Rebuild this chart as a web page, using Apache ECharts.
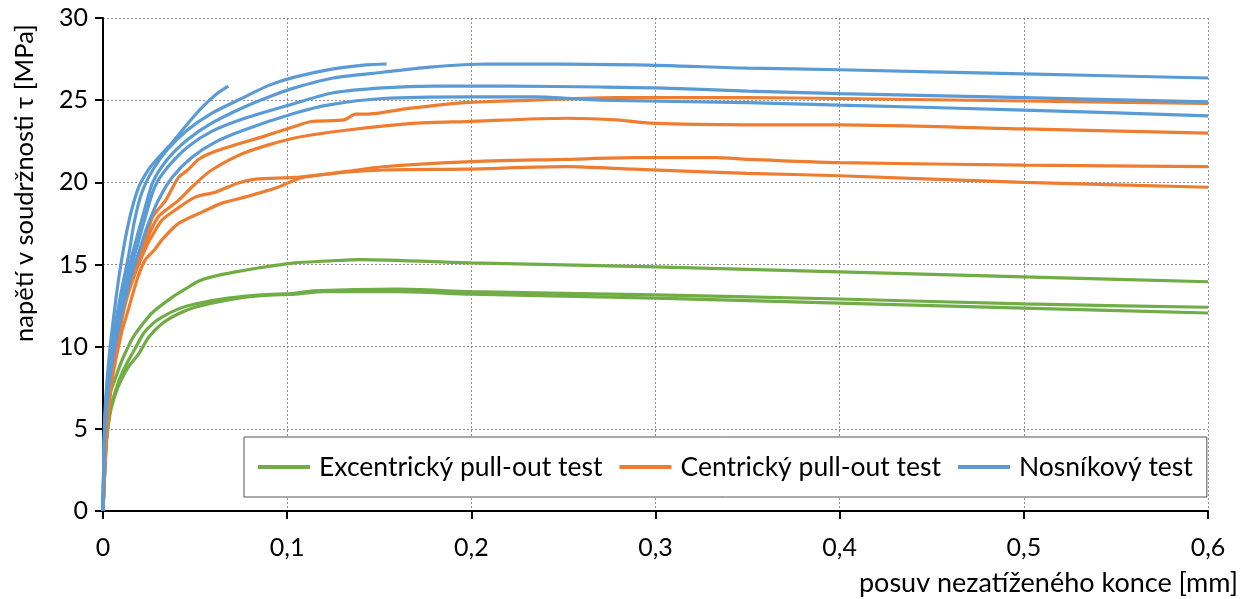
<!DOCTYPE html>
<html>
<head>
<meta charset="utf-8">
<script src="https://cdn.jsdelivr.net/npm/echarts@6/dist/echarts.min.js"></script>
<style>
html,body{margin:0;padding:0;background:#fff;}
#chart{width:1246px;height:599px;}
</style>
</head>
<body>
<div id="chart"></div>
<script>
// ---- data (x = posuv [mm], y = napětí [MPa]) ----
const seriesNames = ['Excentrický pull-out test', 'Centrický pull-out test', 'Nosníkový test'];
const xTicks = [0, 0.1, 0.2, 0.3, 0.4, 0.5, 0.6];
const yTicks = [0, 5, 10, 15, 20, 25, 30];

const excentricky1 = [[0,0],[0.001,3],[0.002,5.5],[0.004,7.2],[0.0065,8.0],[0.009,8.8],[0.012,9.6],[0.016,10.5],[0.021,11.3],[0.0266,12.05],[0.0375,13.0],[0.046,13.6],[0.052,14.0],[0.059,14.25],[0.072,14.55],[0.085,14.8],[0.104,15.1],[0.12,15.2],[0.14,15.3],[0.2,15.1],[0.3,14.85],[0.4,14.55],[0.5,14.25],[0.6,13.95]];
const excentricky2 = [[0,0],[0.001,2.5],[0.002,4.5],[0.004,6.2],[0.007,7.4],[0.01,8.3],[0.014,9.2],[0.017,9.8],[0.022,10.8],[0.027,11.4],[0.032,11.8],[0.041,12.3],[0.05,12.6],[0.068,12.95],[0.086,13.15],[0.104,13.25],[0.114,13.4],[0.16,13.5],[0.2,13.35],[0.3,13.15],[0.4,12.9],[0.5,12.6],[0.6,12.4]];
const excentricky3 = [[0,0],[0.001,2.5],[0.002,4.3],[0.004,6.0],[0.007,7.2],[0.01,8.0],[0.014,8.8],[0.019,9.5],[0.025,10.6],[0.032,11.4],[0.041,12.0],[0.05,12.4],[0.068,12.85],[0.086,13.1],[0.104,13.2],[0.12,13.35],[0.16,13.35],[0.2,13.2],[0.3,12.95],[0.4,12.65],[0.5,12.35],[0.6,12.05]];

const centricky1 = [[0,0],[0.002,5.2],[0.005,8.8],[0.01,12.0],[0.0136,13.6],[0.0174,14.9],[0.023,16.5],[0.027,17.9],[0.034,18.9],[0.041,20.3],[0.046,20.75],[0.052,21.4],[0.059,21.8],[0.068,22.15],[0.086,22.75],[0.104,23.4],[0.113,23.7],[0.131,23.8],[0.137,24.15],[0.143,24.15],[0.166,24.5],[0.197,24.85],[0.233,25.0],[0.279,25.15],[0.35,25.15],[0.4,25.1],[0.5,24.95],[0.6,24.8]];
const centricky2 = [[0,0],[0.002,5.0],[0.005,8.5],[0.01,11.8],[0.0136,13.4],[0.0174,14.7],[0.023,16.3],[0.03,17.9],[0.041,18.9],[0.05,19.9],[0.059,20.75],[0.077,21.8],[0.104,22.7],[0.134,23.2],[0.17,23.6],[0.197,23.7],[0.252,23.9],[0.279,23.8],[0.297,23.6],[0.35,23.5],[0.4,23.5],[0.5,23.25],[0.6,23.0]];
const centricky3 = [[0,0],[0.002,4.6],[0.005,8.0],[0.01,10.8],[0.0136,12.2],[0.019,14.25],[0.023,15.3],[0.028,15.9],[0.032,16.5],[0.041,17.5],[0.054,18.2],[0.065,18.75],[0.077,19.1],[0.095,19.7],[0.107,20.25],[0.125,20.55],[0.152,20.95],[0.197,21.25],[0.252,21.4],[0.288,21.5],[0.333,21.5],[0.35,21.4],[0.4,21.2],[0.5,21.05],[0.6,20.95]];
const centricky4 = [[0,0],[0.002,4.8],[0.005,8.3],[0.01,11.5],[0.0136,13.2],[0.019,14.9],[0.024,16.2],[0.028,17.0],[0.032,17.7],[0.039,18.3],[0.05,19.1],[0.061,19.4],[0.073,19.95],[0.083,20.2],[0.104,20.3],[0.125,20.55],[0.152,20.75],[0.197,20.8],[0.252,20.95],[0.288,20.8],[0.35,20.55],[0.4,20.4],[0.5,20.0],[0.6,19.7]];

const nosnikovy1 = [[0,0],[0.001,5.3],[0.003,8.2],[0.0065,10.8],[0.01,12.8],[0.014,14.8],[0.019,16.9],[0.023,18.5],[0.027,20.0],[0.035,21.4],[0.046,22.6],[0.059,23.6],[0.077,24.6],[0.09,25.2],[0.104,25.75],[0.125,26.35],[0.152,26.7],[0.176,27.0],[0.209,27.2],[0.29,27.15],[0.35,26.95],[0.4,26.85],[0.5,26.6],[0.6,26.35]];
const nosnikovy2 = [[0,0],[0.001,5.0],[0.003,7.8],[0.0065,10.3],[0.01,12.3],[0.014,14.3],[0.019,16.3],[0.023,17.9],[0.028,19.7],[0.035,20.9],[0.046,22.15],[0.059,23.1],[0.077,23.9],[0.104,24.8],[0.125,25.45],[0.152,25.75],[0.18,25.85],[0.22,25.85],[0.27,25.8],[0.3,25.75],[0.35,25.55],[0.4,25.4],[0.5,25.15],[0.6,24.9]];
const nosnikovy3 = [[0,0],[0.001,4.8],[0.003,7.5],[0.0065,10.0],[0.01,11.9],[0.014,13.8],[0.019,15.6],[0.024,17.3],[0.03,18.9],[0.0375,20.3],[0.048,21.5],[0.061,22.45],[0.077,23.2],[0.104,24.2],[0.122,24.7],[0.152,25.1],[0.198,25.2],[0.235,25.2],[0.27,25.0],[0.35,24.85],[0.4,24.7],[0.5,24.4],[0.6,24.05]];
const nosnikovy4 = [[0,0],[0.001,5.4],[0.003,8.4],[0.0065,11.2],[0.01,13.4],[0.014,15.6],[0.017,17.6],[0.021,19.35],[0.027,20.75],[0.035,22.0],[0.046,23.2],[0.059,24.2],[0.077,25.2],[0.09,25.9],[0.104,26.4],[0.125,26.9],[0.143,27.15],[0.154,27.2]];
const nosnikovy5 = [[0,0],[0.001,5.8],[0.003,9.0],[0.006,12.0],[0.009,14.5],[0.0136,17.4],[0.019,19.6],[0.0245,20.75],[0.03,21.5],[0.0375,22.4],[0.044,23.3],[0.05,24.1],[0.056,24.8],[0.062,25.4],[0.068,25.85]];

const groups = [
  {name: seriesNames[0], color: '#70AD47', curves: [excentricky1, excentricky2, excentricky3]},
  {name: seriesNames[1], color: '#ED7D31', curves: [centricky1, centricky2, centricky3, centricky4]},
  {name: seriesNames[2], color: '#5B9BD5', curves: [nosnikovy1, nosnikovy2, nosnikovy3, nosnikovy4, nosnikovy5]}
];

const FONT = 'Lato';
const series = [];
groups.forEach(g => {
  g.curves.forEach(c => {
    series.push({
      type: 'line', name: g.name, data: c, symbol: 'none', smooth: 0.25,
      lineStyle: {color: g.color, width: 3.2}, itemStyle: {color: g.color},
      animation: false
    });
  });
});

const chart = echarts.init(document.getElementById('chart'));
chart.setOption({
  backgroundColor: '#fff',
  animation: false,
  grid: {left: 103, right: 38, top: 18, bottom: 88},
  xAxis: {
    type: 'value', min: xTicks[0], max: xTicks[xTicks.length - 1], interval: 0.1,
    axisLine: {lineStyle: {color: '#000', width: 2}},
    axisTick: {show: true, length: 8, lineStyle: {color: '#000', width: 2}},
    axisLabel: {color: '#000', fontFamily: FONT, fontSize: 25, margin: 24,
      formatter: v => v === 0 ? '0' : v.toFixed(1).replace('.', ',')},
    splitLine: {show: true, lineStyle: {color: '#8c8c8c', type: [2, 2], width: 1}}
  },
  yAxis: {
    type: 'value', min: yTicks[0], max: yTicks[yTicks.length - 1], interval: 5,
    axisLine: {show: true, lineStyle: {color: '#000', width: 2}},
    axisTick: {show: true, length: 8, lineStyle: {color: '#000', width: 2}},
    axisLabel: {color: '#000', fontFamily: FONT, fontSize: 25, margin: 15},
    splitLine: {show: true, lineStyle: {color: '#8c8c8c', type: [2, 2], width: 1}}
  },
  legend: {
    data: seriesNames,
    left: 244, top: 437,
    padding: [14, 14, 14, 14],
    backgroundColor: '#fff',
    borderColor: '#555', borderWidth: 1,
    icon: 'rect',
    itemWidth: 52, itemHeight: 4, itemGap: 17,
    textStyle: {color: '#000', fontFamily: FONT, fontSize: 26.5, padding: [0, 0, 0, 4], lineHeight: 32}
  },
  graphic: [
    {type: 'text', x: 25, y: 183, rotation: Math.PI / 2,
      style: {text: 'napětí v soudržnosti τ [MPa]', fill: '#000', font: '25.5px ' + FONT, textAlign: 'center', textVerticalAlign: 'middle'}},
    {type: 'text', x: 1238, y: 583,
      style: {text: 'posuv nezatíženého konce [mm]', fill: '#000', font: '27px ' + FONT, textAlign: 'right', textVerticalAlign: 'middle'}}
  ],
  series: series
});
</script>
</body>
</html>
